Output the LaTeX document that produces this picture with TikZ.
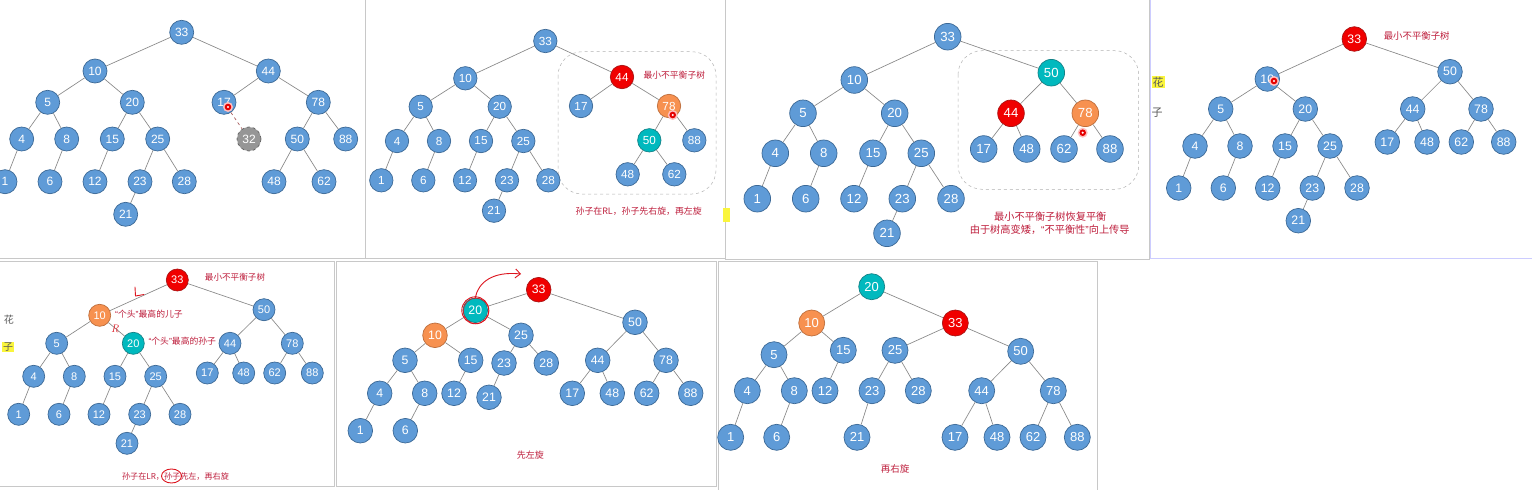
\documentclass[tikz,border=0pt]{standalone}
\usepackage{fontspec}
\setsansfont{Liberation Sans}
\newfontfamily\cjk{Noto Sans CJK SC}
\newfontfamily\qf{Liberation Sans}
\usetikzlibrary{arrows.meta}
\definecolor{ndf}{RGB}{95,155,215}
\definecolor{ndb}{RGB}{60,105,150}
\definecolor{rdf}{RGB}{240,0,0}
\definecolor{rdb}{RGB}{170,20,20}
\definecolor{odf}{RGB}{247,145,80}
\definecolor{odb}{RGB}{190,110,60}
\definecolor{tdf}{RGB}{0,185,190}
\definecolor{tdb}{RGB}{20,130,135}
\definecolor{gdf}{RGB}{150,150,150}
\definecolor{gdb}{RGB}{100,100,100}
\definecolor{edg}{RGB}{135,135,135}
\definecolor{labc}{RGB}{190,30,60}
\definecolor{pnl}{RGB}{200,200,200}
\definecolor{penc}{RGB}{220,20,30}
\definecolor{hl}{RGB}{250,245,60}
\newcommand{\fsz}[1]{\fontsize{#1pt}{#1pt}\selectfont}
\newcommand{\myLq}{{\qf “}}
\newcommand{\myRq}{{\qf ”}}
\newcommand{\cursordot}[1]{\fill[red!25] #1 circle (5pt); \fill[red!90!black] #1 circle (3.3pt); \fill[white] #1 circle (1.2pt);}
\tikzset{
  nd/.style={circle, draw=ndb, fill=ndf, text=white, inner sep=0pt, line width=0.7pt, font=\sffamily},
  rd/.style={nd, draw=rdb, fill=rdf},
  od/.style={nd, draw=odb, fill=odf},
  td/.style={nd, draw=tdb, fill=tdf},
  gd/.style={nd, draw=gdb, fill=gdf, dashed},
  edge/.style={draw=edg, line width=0.65pt},
  lab/.style={text=labc, inner sep=0pt},
  panel/.style={draw=pnl, fill=white, line width=0.6pt},
  dbox/.style={draw=gray!60, dashed, rounded corners=24pt, line width=0.5pt},
  penline/.style={draw=penc, line width=0.9pt, line cap=round, line join=round},
}
\def\LT{10/5,10/20,5/4,5/8,4/1,8/6,20/15,20/25,15/12,25/23,25/28,23/21}
\def\RA{33/10,33/44,44/17,44/78,78/50,78/88,50/48,50/62}
\def\RB{33/10,33/50,50/44,50/78,44/17,44/48,78/62,78/88}
\begin{document}
\begin{tikzpicture}[x=1pt,y=-1pt]
\useasboundingbox (0,0) rectangle (1532,490);
\fill[white] (0,0) rectangle (1532,490);
% panels
\draw[panel] (-2,-2) rectangle (365,258);
\draw[panel] (365,-2) rectangle (725,258);
\draw[panel] (725,-2) rectangle (1149,259);
\draw[panel, draw=blue!20] (1150,-2) rectangle (1534,258);
\draw[panel] (-2,261) rectangle (334,486);
\draw[panel] (336,261) rectangle (716,486);
\draw[panel] (718,261) rectangle (1097,492);

% ---------------- panel 1 ----------------
\begin{scope}[nd/.append style={minimum size=24pt,font=\sffamily\fsz{12}}]
\node[nd] (a33) at (181.7,32.3) {33};
\node[nd] (a10) at (95,71) {10};
\node[nd] (a44) at (268.3,71) {44};
\node[nd] (a5) at (47.7,102.3) {5};
\node[nd] (a20) at (132.3,102.3) {20};
\node[nd] (a17) at (224,102.3) {17};
\node[nd] (a78) at (318.3,102.3) {78};
\node[nd] (a4) at (21.7,139) {4};
\node[nd] (a8) at (66.7,139) {8};
\node[nd] (a15) at (112.3,139) {15};
\node[nd] (a25) at (157.7,139) {25};
\node[gd] (a32) at (249,139) {32};
\node[nd] (a50) at (297.3,139) {50};
\node[nd] (a88) at (345.7,139) {88};
\node[nd] (a1) at (5,181.7) {1};
\node[nd] (a6) at (50,181.7) {6};
\node[nd] (a12) at (95,181.7) {12};
\node[nd] (a23) at (140,181.7) {23};
\node[nd] (a28) at (184.3,181.7) {28};
\node[nd] (a48) at (274,181.7) {48};
\node[nd] (a62) at (324,181.7) {62};
\node[nd] (a21) at (125.7,214.3) {21};
\foreach \u/\v in \LT {\draw[edge] (a\u) -- (a\v);}
\foreach \u/\v in \RA {\draw[edge] (a\u) -- (a\v);}
\draw[edge, dashed, draw=red!30!gray] (a17) -- (a32);
\cursordot{(228,107)}
\end{scope}

% ---------------- panel 2 ----------------
\begin{scope}[nd/.append style={minimum size=23.4pt,font=\sffamily\fsz{11.7}}]
\draw[dbox] (558,51.7) rectangle (716,194);
\node[nd] (b33) at (545.3,41) {33};
\node[nd] (b10) at (465.3,78.3) {10};
\node[rd] (b44) at (622,77) {44};
\node[nd] (b5) at (420.7,106.7) {5};
\node[nd] (b20) at (499.7,106.7) {20};
\node[nd] (b17) at (581,106) {17};
\node[od] (b78) at (669,106) {78};
\node[nd] (b4) at (397,141) {4};
\node[nd] (b8) at (439,141) {8};
\node[nd] (b15) at (481,141) {15};
\node[nd] (b25) at (523.3,141) {25};
\node[td] (b50) at (649.3,140.3) {50};
\node[nd] (b88) at (694.3,140.3) {88};
\node[nd] (b1) at (381.3,180.3) {1};
\node[nd] (b6) at (423.3,180.3) {6};
\node[nd] (b12) at (465,180.3) {12};
\node[nd] (b23) at (507,180.3) {23};
\node[nd] (b28) at (548.3,180.3) {28};
\node[nd] (b48) at (627.7,174.3) {48};
\node[nd] (b62) at (674.3,174.3) {62};
\node[nd] (b21) at (494,210.7) {21};
\foreach \u/\v in \LT {\draw[edge] (b\u) -- (b\v);}
\foreach \u/\v in \RA {\draw[edge] (b\u) -- (b\v);}
\node[lab, font=\cjk\fsz{8.8}] (bl1) at (674.3,75) {最小不平衡子树};
\node[lab, font=\cjk\fsz{8.9}] (bl2) at (638.7,211) {孙子在RL，孙子先右旋，再左旋};
\cursordot{(672.7,115)}
\end{scope}
\fill[hl] (723,208) rectangle (730,222);

% ---------------- panel 3 ----------------
\begin{scope}[nd/.append style={minimum size=26.6pt,font=\sffamily\fsz{13.2}}]
\draw[dbox] (958,50.7) rectangle (1138.7,189.3);
\node[nd] (c33) at (947.7,36.7) {33};
\node[nd] (c10) at (854.3,80) {10};
\node[td] (c50) at (1051.3,72.7) {50};
\node[nd] (c5) at (803,113.3) {5};
\node[nd] (c20) at (894.7,113.3) {20};
\node[rd] (c44) at (1011,113.3) {44};
\node[od] (c78) at (1085.3,113.3) {78};
\node[nd] (c4) at (775.3,153.3) {4};
\node[nd] (c8) at (823.7,153.3) {8};
\node[nd] (c15) at (873,153.3) {15};
\node[nd] (c25) at (921.3,153.3) {25};
\node[nd] (c17) at (983.7,149) {17};
\node[nd] (c48) at (1026.7,149) {48};
\node[nd] (c62) at (1064,149) {62};
\node[nd] (c88) at (1110,149) {88};
\node[nd] (c1) at (757.3,198.7) {1};
\node[nd] (c6) at (805.7,198.7) {6};
\node[nd] (c12) at (854,198.7) {12};
\node[nd] (c23) at (902.3,198.7) {23};
\node[nd] (c28) at (951,198.7) {28};
\node[nd] (c21) at (887,233.3) {21};
\foreach \u/\v in \LT {\draw[edge] (c\u) -- (c\v);}
\foreach \u/\v in \RB {\draw[edge] (c\u) -- (c\v);}
\node[lab, font=\cjk\fsz{10.2}] (cl1) at (1050.3,216.7) {最小不平衡子树恢复平衡};
\node[lab, font=\cjk\fsz{10.2}] (cl2) at (1049.7,230) {由于树高变矮，\myLq 不平衡性\myRq 向上传导};
\cursordot{(1082.7,132.7)}
\end{scope}

% ---------------- panel 4 ----------------
\begin{scope}[nd/.append style={minimum size=24.6pt,font=\sffamily\fsz{12.3}}]
\node[rd] (d33) at (1354.3,39) {33};
\node[nd] (d10) at (1267.3,79) {10};
\node[nd] (d50) at (1450,71.7) {50};
\node[nd] (d5) at (1220.7,109) {5};
\node[nd] (d20) at (1305.3,109) {20};
\node[nd] (d44) at (1412.7,109) {44};
\node[nd] (d78) at (1481,109) {78};
\node[nd] (d4) at (1195,146) {4};
\node[nd] (d8) at (1240,146) {8};
\node[nd] (d15) at (1285,146) {15};
\node[nd] (d25) at (1330,146) {25};
\node[nd] (d17) at (1387.3,142) {17};
\node[nd] (d48) at (1427,142) {48};
\node[nd] (d62) at (1461.3,142) {62};
\node[nd] (d88) at (1503.7,142) {88};
\node[nd] (d1) at (1178.7,188) {1};
\node[nd] (d6) at (1223.3,188) {6};
\node[nd] (d12) at (1267.7,188) {12};
\node[nd] (d23) at (1312.3,188) {23};
\node[nd] (d28) at (1357,188) {28};
\node[nd] (d21) at (1298.3,220.7) {21};
\foreach \u/\v in \LT {\draw[edge] (d\u) -- (d\v);}
\foreach \u/\v in \RB {\draw[edge] (d\u) -- (d\v);}
\node[lab, font=\cjk\fsz{9.4}] (dl1) at (1416.7,35.7) {最小不平衡子树};
\cursordot{(1274,81)}
\node[fill=hl, inner sep=1pt, font=\cjk\fsz{11}, text=gray!70!black] (dh1) at (1158,82) {花};
\node[font=\cjk\fsz{11}, text=gray!70!black, inner sep=0pt] (dh2) at (1157,113) {子};
\end{scope}

% ---------------- panel 5 ----------------
\begin{scope}[nd/.append style={minimum size=22pt,font=\sffamily\fsz{11}}]
\node[rd] (e33) at (177.3,280) {33};
\node[od] (e10) at (99.7,315.3) {10};
\node[nd] (e50) at (264,309.7) {50};
\node[nd] (e5) at (56.7,343.3) {5};
\node[td] (e20) at (133.3,343.3) {20};
\node[nd] (e44) at (230,343.3) {44};
\node[nd] (e78) at (292.3,343.3) {78};
\node[nd] (e4) at (33.7,376.3) {4};
\node[nd] (e8) at (74.3,376.3) {8};
\node[nd] (e15) at (115,376.3) {15};
\node[nd] (e25) at (155.7,376.3) {25};
\node[nd] (e17) at (207.3,373) {17};
\node[nd] (e48) at (243.7,373) {48};
\node[nd] (e62) at (274.7,373) {62};
\node[nd] (e88) at (312.3,373) {88};
\node[nd] (e1) at (18.7,414.3) {1};
\node[nd] (e6) at (59,414.3) {6};
\node[nd] (e12) at (99,414.3) {12};
\node[nd] (e23) at (139.7,414.3) {23};
\node[nd] (e28) at (180,414.3) {28};
\node[nd] (e21) at (127,443.3) {21};
\foreach \u/\v in \LT {\draw[edge] (e\u) -- (e\v);}
\foreach \u/\v in \RB {\draw[edge] (e\u) -- (e\v);}
\node[lab, font=\cjk\fsz{8.6}] (el1) at (235,277) {最小不平衡子树};
\node[lab, font=\cjk\fsz{8.8}, anchor=west] (el2) at (115,313.7) {\myLq 个头\myRq 最高的儿子};
\node[lab, font=\cjk\fsz{8.8}, anchor=west] (el3) at (148.3,341) {\myLq 个头\myRq 最高的孙子};
\node[lab, font=\cjk\fsz{8.1}] (el4) at (175.5,477) {孙子在LR，孙子先左，再右旋};
\draw[penline] (171.5,476) ellipse (10pt and 7pt);
\draw[penline] (135,287) -- (135.5,296) -- (144,294.5);
\node[text=penc, font=\itshape\fsz{11}, inner sep=0pt] (eR) at (115,329) {R};
\node[font=\cjk\fsz{10}, text=gray!70!black, inner sep=0pt] (eh1) at (9,320) {花};
\node[fill=hl, inner sep=1pt, font=\cjk\fsz{10}, text=gray!70!black] (eh2) at (8,347) {子};
\end{scope}

% ---------------- panel 6 ----------------
\begin{scope}[nd/.append style={minimum size=24.6pt,font=\sffamily\fsz{12.3}}]
\node[rd] (f33) at (538.7,289.7) {33};
\node[td] (f20) at (475.3,310.3) {20};
\node[nd] (f50) at (635,322.3) {50};
\node[od] (f10) at (435,335.3) {10};
\node[nd] (f25) at (521,335.3) {25};
\node[nd] (f5) at (405,360.3) {5};
\node[nd] (f15) at (470.7,360.3) {15};
\node[nd] (f23) at (504,363) {23};
\node[nd] (f28) at (546.3,363) {28};
\node[nd] (f44) at (597.7,360.3) {44};
\node[nd] (f78) at (666,360.3) {78};
\node[nd] (f4) at (379.7,393.3) {4};
\node[nd] (f8) at (424.7,393.3) {8};
\node[nd] (f12) at (454,393.3) {12};
\node[nd] (f21) at (489,397.3) {21};
\node[nd] (f17) at (572.3,393.3) {17};
\node[nd] (f48) at (612.3,393.3) {48};
\node[nd] (f62) at (646.7,393.3) {62};
\node[nd] (f88) at (690.7,393.3) {88};
\node[nd] (f1) at (360.3,430.7) {1};
\node[nd] (f6) at (405.3,430.7) {6};
\foreach \u/\v in {33/20,33/50,20/10,20/25,10/5,10/15,5/4,5/8,4/1,8/6,15/12,25/23,25/28,23/21,50/44,50/78,44/17,44/48,78/62,78/88} {\draw[edge] (f\u) -- (f\v);}
\draw[penline] (f20) circle (13.5pt);
\draw[penline, line width=0.6pt] ([xshift=0.8pt,yshift=-0.6pt]f20.center) circle (12.8pt);
\coordinate (farr) at (521,274);
\draw[penline, -{Straight Barb[length=5pt,width=9pt]}] (f20.north) .. controls (478,283) and (492,271) .. (farr);
\node[lab, font=\cjk\fsz{9}] (fl1) at (530.3,454.7) {先左旋};
\end{scope}

% ---------------- panel 7 ----------------
\begin{scope}[nd/.append style={minimum size=26pt,font=\sffamily\fsz{13}}]
\node[td] (g20) at (871.7,286.7) {20};
\node[od] (g10) at (811.7,323) {10};
\node[rd] (g33) at (955.3,323) {33};
\node[nd] (g5) at (774,354.7) {5};
\node[nd] (g15) at (843.3,350.3) {15};
\node[nd] (g25) at (895,350.3) {25};
\node[nd] (g50) at (1020.7,351.3) {50};
\node[nd] (g4) at (747.3,390.7) {4};
\node[nd] (g8) at (794.3,390.7) {8};
\node[nd] (g12) at (825,390.7) {12};
\node[nd] (g23) at (872,390.7) {23};
\node[nd] (g28) at (918.3,390.7) {28};
\node[nd] (g44) at (981.7,390.7) {44};
\node[nd] (g78) at (1053.3,390.7) {78};
\node[nd] (g1) at (730.7,437.3) {1};
\node[nd] (g6) at (776.7,437.3) {6};
\node[nd] (g21) at (857,437.3) {21};
\node[nd] (g17) at (955,437.3) {17};
\node[nd] (g48) at (997,437.3) {48};
\node[nd] (g62) at (1033,437.3) {62};
\node[nd] (g88) at (1077.3,437.3) {88};
\foreach \u/\v in {20/10,20/33,10/5,10/15,5/4,5/8,4/1,8/6,15/12,33/25,33/50,25/23,25/28,23/21,50/44,50/78,44/17,44/48,78/62,78/88} {\draw[edge] (g\u) -- (g\v);}
\node[lab, font=\cjk\fsz{9.5}] (gl1) at (895,469) {再右旋};
\end{scope}
\end{tikzpicture}
\end{document}
